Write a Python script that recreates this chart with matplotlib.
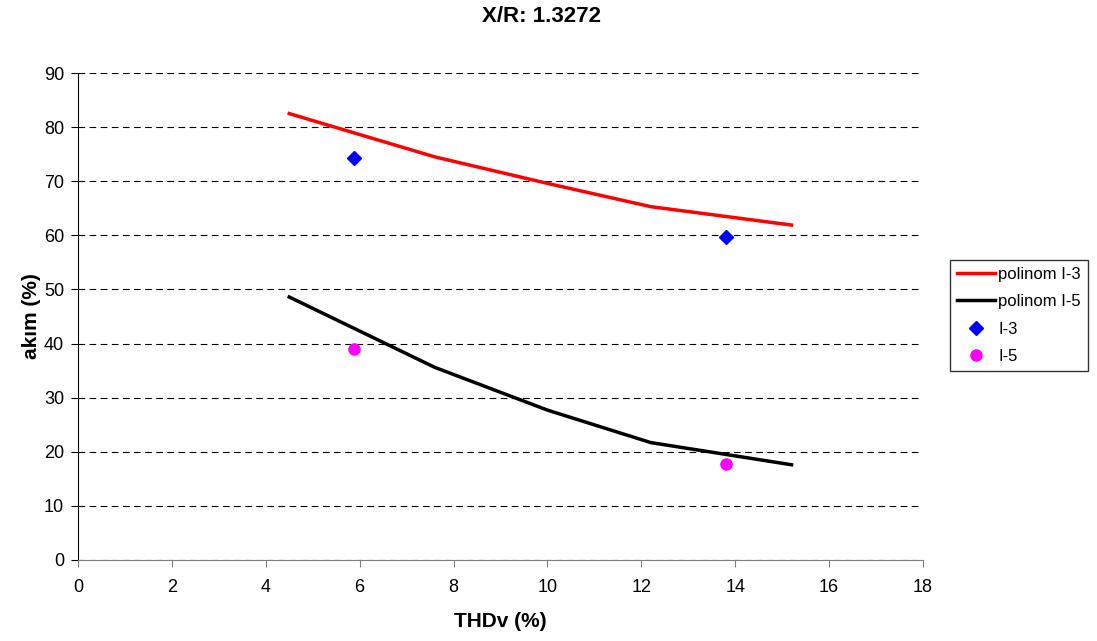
import numpy as np
import matplotlib.pyplot as plt

plt.rcParams['font.family'] = ['Liberation Sans', 'DejaVu Sans']

# polinom egrileri
thd_fit = [4.5, 7.6, 10.0, 12.2, 15.2]
i3_fit = [82.5, 74.5, 69.6, 65.3, 61.9]
i5_fit = [48.6, 35.6, 27.7, 21.7, 17.6]

# olculen noktalar
thd_pts = [5.88, 13.8]
i3_pts = [74.3, 59.7]
i5_pts = [39.0, 17.8]

fig = plt.figure(figsize=(10.97, 6.41), dpi=100)
ax = fig.add_axes([78/1097, 81/641, 845/1097, 487/641])

ax.plot(thd_fit, i3_fit, color='red', linewidth=2.5, label='polinom I-3')
ax.plot(thd_fit, i5_fit, color='black', linewidth=2.5, label='polinom I-5')
ax.plot(thd_pts, i3_pts, linestyle='none', marker='D', markersize=7, color='blue', label='I-3')
ax.plot(thd_pts, i5_pts, linestyle='none', marker='o', markersize=8, color='magenta', label='I-5')

ax.set_xlim(0, 18)
ax.set_ylim(0, 90)
ax.set_xticks(np.arange(0, 19, 2))
ax.set_yticks(np.arange(0, 91, 10))
ax.yaxis.grid(True, linestyle=(0, (6, 4)), color='black', linewidth=0.8)
ax.set_axisbelow(True)
for s in ['top', 'right']:
    ax.spines[s].set_visible(False)
ax.spines['left'].set_color('black')
ax.spines['bottom'].set_color('#808080')
ax.tick_params(direction='out', length=5, labelsize=13, pad=5)
ax.tick_params(axis='x', color='#808080', pad=9)

ax.set_xlabel('THDv (%)', fontsize=15, fontweight='bold', labelpad=11)
ax.set_ylabel('akım (%)', fontsize=15, fontweight='bold', labelpad=2)
fig.text(541/1097, 1 - 16/641, 'X/R: 1.3272', fontsize=16, fontweight='bold', ha='center', va='center')

leg = fig.legend(loc='upper left', bbox_to_anchor=(950/1097, 1 - 260/641), fontsize=12,
                 frameon=True, fancybox=False, edgecolor='black', handlelength=2.3,
                 borderpad=0.4, labelspacing=0.75, handletextpad=0.2, borderaxespad=0)
leg.get_frame().set_linewidth(1.0)

fig.savefig('out.png', dpi=100)
